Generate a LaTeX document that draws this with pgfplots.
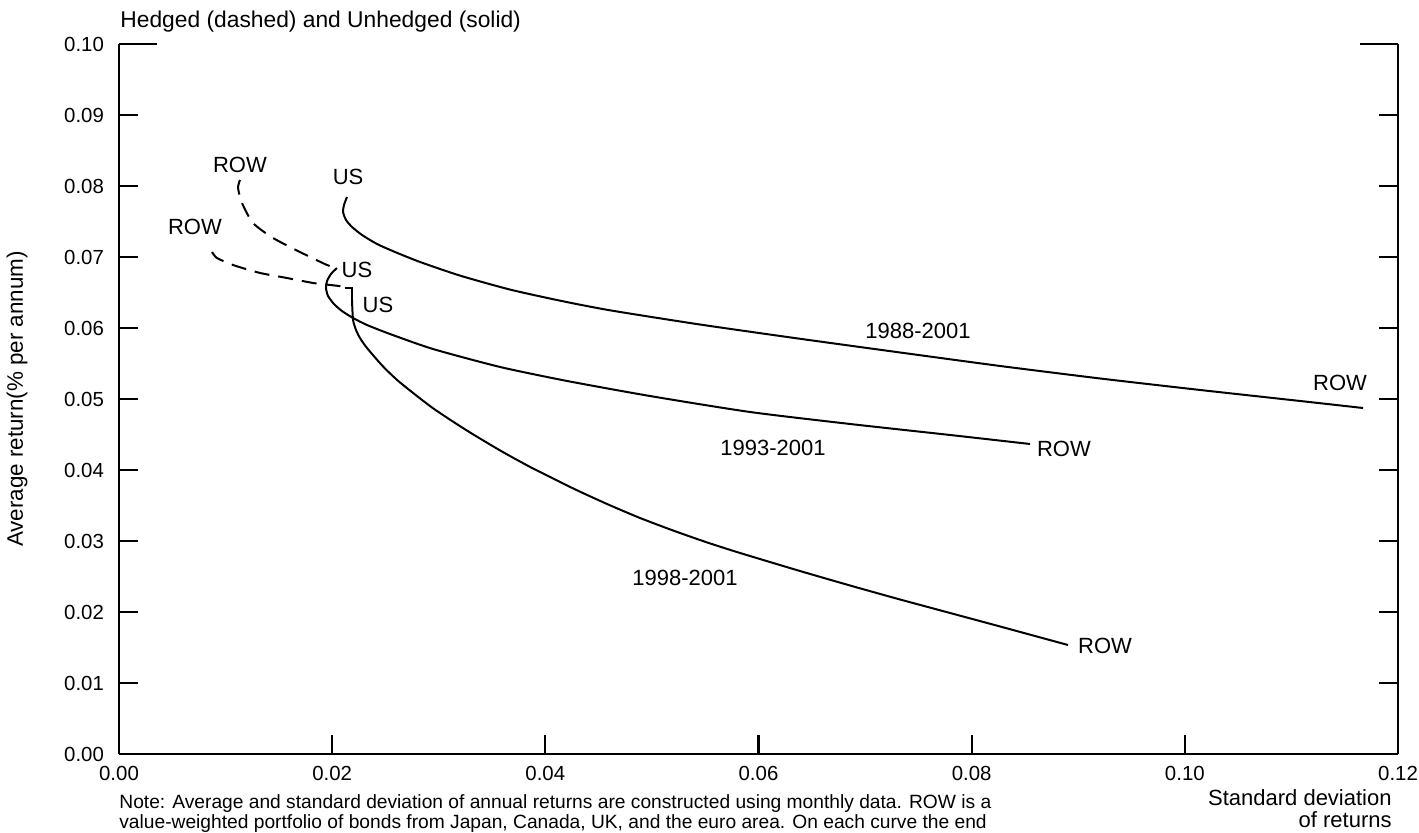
\documentclass[border=0pt]{standalone}
\usepackage{pgfplots}
\pgfplotsset{compat=1.18}
\usepackage{fontspec}
\setmainfont{Liberation Sans}
\begin{document}
\begin{tikzpicture}
\begin{axis}[
  scale only axis, width=639.5pt, height=355pt,
  xmin=0, xmax=0.12, ymin=0, ymax=0.10,
  axis x line=bottom, axis y line=box,
  axis line style={-, line width=1.3pt},
  tick align=inside,
  major tick length=9.5pt,
  every tick/.style={black, line width=1.1pt},
  xtick={0,0.02,0.04,0.06,0.08,0.10,0.12},
  ytick={0,0.01,0.02,0.03,0.04,0.05,0.06,0.07,0.08,0.09},
  extra y ticks={0.10},
  extra y tick style={major tick length=19pt, tick style={line width=1.1pt}},
  /pgf/number format/assume math mode=true,
  /pgf/number format/.cd, fixed, fixed zerofill, precision=2, /pgfplots/.cd,
  ticklabel style={font=\fontsize{10.2}{11}\selectfont},
  yticklabel style={xshift=-4pt},
  xticklabel style={yshift=-2.5pt},
  scaled ticks=false,
  ylabel={Average return(\% per annum)},
  ylabel style={at={(rel axis cs:-0.0797,0.5)}, anchor=center, font=\fontsize{11.2}{12}\selectfont},
  clip=false,
  cycle list={{black, no marks}},
  every axis plot/.append style={line width=1pt},
]
% 1988-2001 unhedged
\addplot+[smooth, tension=0.4] coordinates {
(0.02139,0.07845)(0.02111,0.07732)(0.02102,0.07634)(0.02130,0.07521)(0.02186,0.07423)
(0.02280,0.07310)(0.02421,0.07183)(0.02590,0.07070)(0.02824,0.06930)(0.03199,0.06738)
(0.03669,0.06541)(0.04138,0.06385)(0.04607,0.06249)(0.05451,0.06049)(0.06390,0.05848)
(0.07328,0.05655)(0.08266,0.05465)(0.09204,0.05289)(0.10143,0.05127)(0.11081,0.04972)(0.11672,0.04873)};
% 1993-2001 unhedged
\addplot+[smooth, tension=0.4] coordinates {
(0.02045,0.06845)(0.01989,0.06761)(0.01952,0.06662)(0.01942,0.06563)(0.01961,0.06451)
(0.02017,0.06338)(0.02092,0.06239)(0.02196,0.06141)(0.02327,0.06042)(0.02543,0.05915)
(0.02946,0.05704)(0.03575,0.05451)(0.04203,0.05254)(0.04982,0.05042)(0.05920,0.04817)
(0.06859,0.04648)(0.07797,0.04493)(0.08548,0.04366)};
% 1998-2001 unhedged
\addplot+[] coordinates {
(0.02120,0.06563)(0.02186,0.06563)(0.02186,0.06394)};
\addplot+[smooth, tension=0.4] coordinates {
(0.02186,0.06394)(0.02196,0.06113)(0.02224,0.05972)(0.02261,0.05859)(0.02327,0.05718)
(0.02477,0.05459)(0.02637,0.05232)(0.02946,0.04870)(0.03265,0.04555)(0.03575,0.04276)
(0.03856,0.04044)(0.04260,0.03741)(0.04579,0.03521)(0.04888,0.03324)(0.05198,0.03148)
(0.05517,0.02980)(0.05827,0.02831)(0.06390,0.02577)(0.06859,0.02373)(0.07328,0.02176)
(0.07797,0.01986)(0.08266,0.01796)(0.08904,0.01535)};
% hedged upper
\addplot+[dash pattern=on 7.5pt off 4.5pt, smooth, tension=0.4] coordinates {
(0.01135,0.08085)(0.01117,0.07972)(0.01154,0.07761)(0.01257,0.07479)(0.01445,0.07268)
(0.01698,0.07070)(0.01952,0.06887)(0.02045,0.06845)};
% hedged lower
\addplot+[dash pattern=on 7.5pt off 4.5pt, smooth, tension=0.4] coordinates {
(0.00873,0.07070)(0.00919,0.06986)(0.01070,0.06887)(0.01323,0.06775)(0.01576,0.06704)
(0.01820,0.06634)(0.01980,0.06606)(0.02149,0.06577)};
\begin{scope}[every node/.style={font=\fontsize{11}{12}\selectfont}]
\node at (axis cs:0.01135,0.08296) {ROW};
\node at (axis cs:0.00713,0.07423) {ROW};
\node at (axis cs:0.02149,0.08127) {US};
\node at (axis cs:0.02233,0.06817) {US};
\node at (axis cs:0.0243,0.06324) {US};
\node at (axis cs:0.07497,0.05958) {1988-2001};
\node at (axis cs:0.06136,0.0431) {1993-2001};
\node at (axis cs:0.0531,0.02479) {1998-2001};
\node at (axis cs:0.11456,0.05225) {ROW};
\node at (axis cs:0.08866,0.04296) {ROW};
\node at (axis cs:0.09251,0.01521) {ROW};
\end{scope}
\end{axis}
\node[anchor=base west, inner sep=0pt, font=\fontsize{11.4}{13}\selectfont] at (0.5pt,363pt) {Hedged (dashed) and Unhedged (solid)};
\node[anchor=base west, inner sep=0pt, font=\fontsize{9.6}{11}\selectfont] at (0pt,-27.3pt) {Note: Average and standard deviation of annual returns are constructed using monthly data. ROW is a};
\node[anchor=base west, inner sep=0pt, font=\fontsize{9.6}{11}\selectfont] at (0pt,-37.3pt) {value-weighted portfolio of bonds from Japan, Canada, UK, and the euro area. On each curve the end};
\node[anchor=base east, inner sep=0pt, font=\fontsize{11}{12}\selectfont] at (636.5pt,-26pt) {Standard deviation};
\node[anchor=base east, inner sep=0pt, font=\fontsize{11}{12}\selectfont] at (636.5pt,-37pt) {of returns};
\pgfresetboundingbox
\useasboundingbox (-59.5pt,-39.5pt) rectangle (650pt,377pt);
\end{tikzpicture}
\end{document}
